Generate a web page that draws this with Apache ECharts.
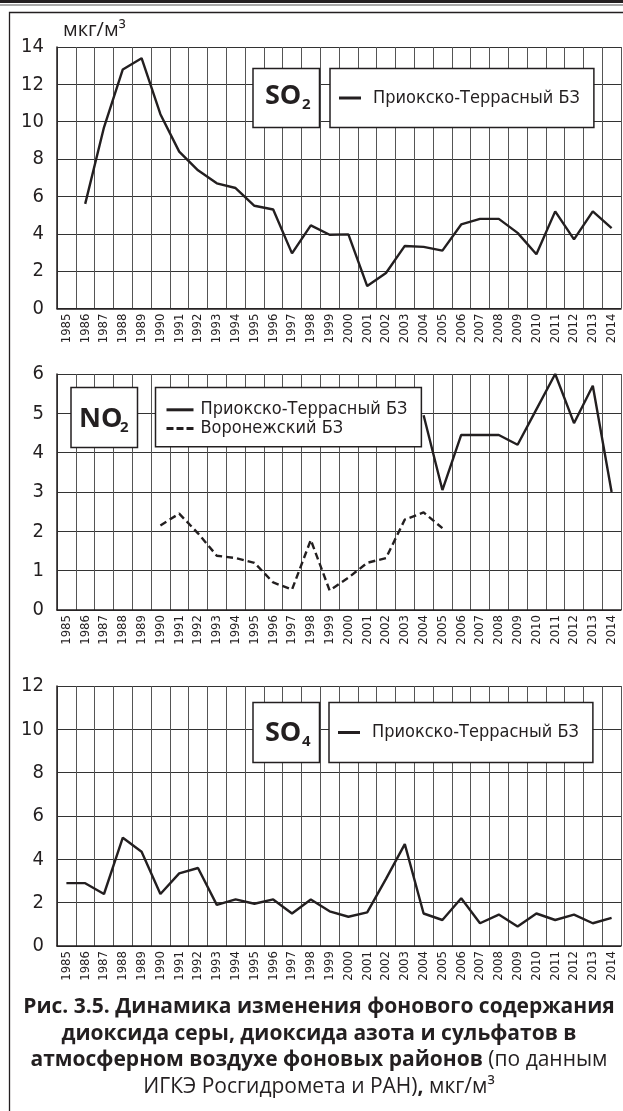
<!DOCTYPE html>
<html>
<head>
<meta charset="utf-8">
<script src="https://cdn.jsdelivr.net/npm/echarts@6/dist/echarts.min.js"></script>
<style>
  html, body { margin: 0; padding: 0; background: #fff; }
  #chart { width: 623px; height: 1111px; }
</style>
</head>
<body>
<div id="chart"></div>
<script>
// Years on the horizontal axis of all three panels
const years = ['1985','1986','1987','1988','1989','1990','1991','1992','1993','1994',
  '1995','1996','1997','1998','1999','2000','2001','2002','2003','2004',
  '2005','2006','2007','2008','2009','2010','2011','2012','2013','2014'];

// Sulphur dioxide, Prioksko-Terrasny reserve, µg/m3
const so2Prioksko = [null, 5.6, 9.7, 12.8, 13.4, 10.4, 8.4, 7.4, 6.7, 6.45,
  5.5, 5.3, 2.95, 4.45, 3.95, 3.97, 1.2, 1.9, 3.35, 3.3,
  3.1, 4.5, 4.8, 4.8, 4.05, 2.9, 5.2, 3.7, 5.2, 4.3];

// Nitrogen dioxide, Prioksko-Terrasny reserve
const no2Prioksko = [null, null, null, null, null, null, null, null, null, null,
  null, null, null, null, null, null, null, null, null, 4.95,
  3.05, 4.45, 4.45, 4.45, 4.2, 5.1, 6.0, 4.75, 5.7, 3.0];

// Nitrogen dioxide, Voronezh reserve
const no2Voronezh = [null, null, null, null, null, 2.15, 2.45, 1.95, 1.38, 1.32,
  1.2, 0.7, 0.52, 1.78, 0.5, 0.82, 1.2, 1.32, 2.3, 2.48,
  2.08, null, null, null, null, null, null, null, null, null];

// Sulphates, Prioksko-Terrasny reserve
const so4Prioksko = [2.9, 2.9, 2.4, 5.0, 4.35, 2.4, 3.35, 3.6, 1.9, 2.15,
  1.95, 2.15, 1.5, 2.15, 1.6, 1.35, 1.55, 3.1, 4.7, 1.5,
  1.2, 2.2, 1.05, 1.45, 0.9, 1.5, 1.2, 1.45, 1.05, 1.3];

// Value axis ranges of the three panels
const yRanges = [
  { max: 14, interval: 2 },
  { max: 6, interval: 1 },
  { max: 12, interval: 2 }
];

const nameP = 'Приокско-Террасный БЗ';
const nameV = 'Воронежский БЗ';
const unitText = 'мкг/м³';
const captionText =
  '{b|Рис. 3.5. Динамика изменения фонового содержания}\n' +
  '{b|диоксида серы, диоксида азота и сульфатов в}\n' +
  '{b|атмосферном воздухе фоновых районов}{r| (по данным}\n' +
  '{r|ИГКЭ Росгидромета и РАН)}{b|,}{r| мкг/м³}';

const INK = '#231f20';
const NARROW = "'Liberation Sans Narrow', 'DejaVu Sans Condensed', sans-serif";
const SANS = "'Open Sans', 'Noto Sans', sans-serif";

// legend marks: a solid bar and a row of three dashes
const ICON_SOLID = 'rect';
const ICON_DASHED = 'path://M0,0h7v3h-7zM10,0h7v3h-7zM20,0h7v3h-7z';

const grids = [
  { left: 57, right: 2, top: 47, height: 261.5 },
  { left: 57, right: 2, top: 374, height: 236 },
  { left: 57, right: 2, top: 686, height: 260 }
];

const xAxes = grids.map((g, i) => ({
  type: 'category',
  gridIndex: i,
  data: years,
  boundaryGap: true,
  axisLine: { show: true, lineStyle: { color: INK, width: 1.5 } },
  axisTick: { show: false },
  axisLabel: {
    interval: 0, rotate: 90, margin: 5,
    fontFamily: NARROW, fontSize: 13, color: INK
  },
  splitLine: { show: true, interval: 0, lineStyle: { color: '#555', width: 1 } }
}));

const yAxes = yRanges.map((r, i) => ({
  type: 'value',
  gridIndex: i,
  min: 0, max: r.max, interval: r.interval,
  axisLine: { show: true, lineStyle: { color: INK, width: 1.5 } },
  axisTick: { show: false },
  axisLabel: { margin: 13, fontFamily: NARROW, fontSize: 20, color: INK },
  splitLine: { show: true, lineStyle: { color: '#333', width: 1 } }
}));

const lineBase = {
  type: 'line',
  symbol: 'none',
  connectNulls: false,
  silent: true,
  z: 5
};

const series = [
  Object.assign({}, lineBase, { name: nameP, xAxisIndex: 0, yAxisIndex: 0, data: so2Prioksko,
    lineStyle: { color: INK, width: 2.4 }, itemStyle: { color: INK } }),
  Object.assign({}, lineBase, { name: nameP, xAxisIndex: 1, yAxisIndex: 1, data: no2Prioksko,
    lineStyle: { color: INK, width: 2.4 }, itemStyle: { color: INK } }),
  Object.assign({}, lineBase, { name: nameV, xAxisIndex: 1, yAxisIndex: 1, data: no2Voronezh,
    lineStyle: { color: INK, width: 2.4, type: [7, 4] }, itemStyle: { color: INK } }),
  Object.assign({}, lineBase, { name: nameP, xAxisIndex: 2, yAxisIndex: 2, data: so4Prioksko,
    lineStyle: { color: INK, width: 2.4 }, itemStyle: { color: INK } })
];

const legendText = {
  fontFamily: NARROW, fontSize: 18, color: INK, lineHeight: 19, padding: [0, 0, 0, 7]
};

const legendBase = {
  selectedMode: false,
  backgroundColor: '#fff',
  borderColor: INK,
  borderWidth: 1.5,
  borderRadius: 0,
  itemHeight: 3,
  itemStyle: { color: INK, borderWidth: 0 },
  lineStyle: { opacity: 0 },
  textStyle: legendText,
  z: 20
};

const legends = [
  Object.assign({}, legendBase, { data: [{ name: nameP, icon: ICON_SOLID }], left: 330, top: 68.5,
    itemWidth: 22, padding: [20, 14, 20, 9] }),
  Object.assign({}, legendBase, {
    data: [{ name: nameP, icon: ICON_SOLID }, { name: nameV, icon: ICON_DASHED }],
    orient: 'vertical', left: 155.5, top: 387.5,
    itemWidth: 27, itemGap: 0, padding: [13, 14, 9, 11],
    textStyle: Object.assign({}, legendText, { lineHeight: 18.6, padding: [0, 0, 0, 2] }) }),
  Object.assign({}, legendBase, { data: [{ name: nameP, icon: ICON_SOLID }], left: 329, top: 702.5,
    itemWidth: 22, padding: [20.5, 14, 20.5, 9] })
];

// Boxed chemical formula labels: box geometry and text anchor
function formulaBox(x, y, w, h, main, sub, tx, ty, subDx) {
  return [
    { type: 'rect', z: 30, shape: { x: x, y: y, width: w, height: h },
      style: { fill: '#fff', stroke: INK, lineWidth: 1.5 } },
    { type: 'text', z: 31, x: tx, y: ty,
      style: { text: main, fontFamily: SANS, fontWeight: 'bold', fontSize: 27, fill: INK,
        align: 'left', verticalAlign: 'middle' } },
    { type: 'text', z: 31, x: tx + subDx, y: ty + 9,
      style: { text: sub, fontFamily: SANS, fontWeight: 'bold', fontSize: 15, fill: INK,
        align: 'left', verticalAlign: 'middle' } }
  ];
}

const graphics = [
  // page rule at the top and the frame around the figure
  { type: 'rect', z: 40, shape: { x: 0, y: 0, width: 623, height: 3 }, style: { fill: INK } },
  { type: 'rect', z: 40, shape: { x: 0, y: 4.5, width: 623, height: 1 }, style: { fill: '#555' } },
  { type: 'polyline', z: 40, shape: { points: [[9.5, 1111], [9.5, 12.5], [623, 12.5]] },
    style: { stroke: INK, lineWidth: 1.3, fill: null } },
  // unit of measure above the first value axis
  { type: 'text', z: 40, x: 63, y: 30,
    style: { text: unitText, fontFamily: SANS, fontSize: 20, fill: INK, align: 'left', verticalAlign: 'middle' } },
  // figure caption
  { type: 'text', z: 40, x: 319, y: 994,
    style: {
      text: captionText, align: 'center', verticalAlign: 'top',
      rich: {
        b: { fontFamily: SANS, fontWeight: 'bold', fontSize: 21, lineHeight: 26.5, fill: INK },
        r: { fontFamily: SANS, fontWeight: 'normal', fontSize: 21, lineHeight: 26.5, fill: INK }
      }
    } }
].concat(
  formulaBox(253, 68.5, 66.5, 59, 'SO', '2', 265, 96, 37),
  formulaBox(71, 387.5, 66.5, 60, 'NO', '2', 79, 419, 41),
  formulaBox(253, 702.5, 66.5, 60, 'SO', '4', 265, 733, 37)
);

const chart = echarts.init(document.getElementById('chart'), null, { renderer: 'canvas' });
chart.setOption({
  backgroundColor: '#fff',
  animation: false,
  grid: grids,
  xAxis: xAxes,
  yAxis: yAxes,
  legend: legends,
  series: series,
  graphic: graphics
});
</script>
</body>
</html>
